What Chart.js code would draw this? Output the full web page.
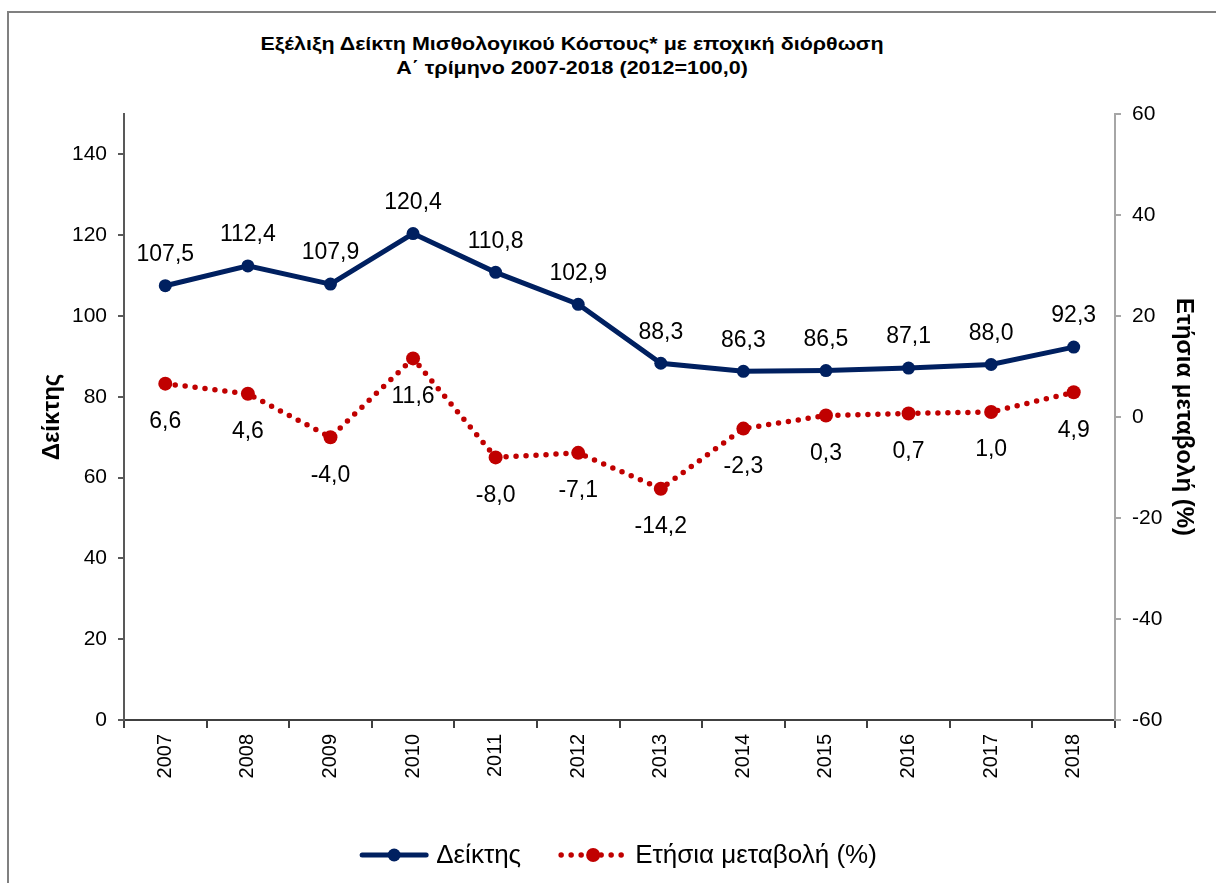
<!DOCTYPE html>
<html>
<head>
<meta charset="utf-8">
<script src="https://cdn.jsdelivr.net/npm/chart.js@4"></script>
<style>
  html, body { margin: 0; padding: 0; background: #fff; overflow: hidden; }
  #wrap { position: relative; width: 1216px; height: 883px; overflow: hidden; }
  #frame { position: absolute; left: 7px; top: 11px; width: 1400px; height: 1000px; border: 2px solid #808080; box-sizing: border-box; }
  #title { position: absolute; left: 0; top: 32px; width: 1144px; text-align: center;
           font: bold 19px "Liberation Sans", Arial, sans-serif; line-height: 24px; color: #000;
           transform: scaleX(1.13); transform-origin: 572px 0; }
  #myChart { position: absolute; left: 0; top: 0; }
</style>
</head>
<body>
<div id="wrap">
  <div id="frame"></div>
  <div id="title">Εξέλιξη Δείκτη Μισθολογικού Κόστους* με εποχική διόρθωση<br>Α΄ τρίμηνο 2007-2018 (2012=100,0)</div>
  <canvas id="myChart" width="1216" height="883"></canvas>
</div>
<script>
const years = ['2007', '2008', '2009', '2010', '2011', '2012', '2013', '2014', '2015', '2016', '2017', '2018']
const indexValues = [107.5, 112.4, 107.9, 120.4, 110.8, 102.9, 88.3, 86.3, 86.5, 87.1, 88.0, 92.3]
const changeValues = [6.6, 4.6, -4.0, 11.6, -8.0, -7.1, -14.2, -2.3, 0.3, 0.7, 1.0, 4.9]
const indexLabel = 'Δείκτης'
const changeLabel = 'Ετήσια μεταβολή (%)'

const NAVY = '#002060'
const RED = '#C00000'
const FONT = '"Liberation Sans", Arial, sans-serif'

// value labels above / below the points
const pointLabels = {
    id: 'pointLabels',
    afterDatasetsDraw(chart) {
        const ctx = chart.ctx
        ctx.save()
        ctx.font = '23px ' + FONT
        ctx.fillStyle = '#000'
        ctx.textAlign = 'center'
        ctx.textBaseline = 'middle'
        chart.data.datasets.forEach((ds, i) => {
            const meta = chart.getDatasetMeta(i)
            meta.data.forEach((pt, j) => {
                const txt = ds.data[j].toFixed(1).replace('.', ',')
                ctx.fillText(txt, pt.x, pt.y + (i === 0 ? -31 : 38))
            })
        })
        ctx.restore()
    }
}

// legend with line + marker samples, like the original
const bottomLegend = {
    id: 'bottomLegend',
    afterDraw(chart) {
        const ctx = chart.ctx
        const y = 855
        const sampleW = 64
        ctx.save()
        ctx.font = '26px ' + FONT
        ctx.textBaseline = 'middle'
        const items = chart.data.datasets.map(ds => ({ ds: ds, w: ctx.measureText(ds.label).width }))
        let total = 0
        items.forEach((it, i) => { total += sampleW + 10 + it.w + (i > 0 ? 40 : 0) })
        let x = (chart.chartArea.left + chart.chartArea.right) / 2 - total / 2
        items.forEach((it, i) => {
            if (i > 0) x += 40
            const ds = it.ds
            ctx.strokeStyle = ds.borderColor
            ctx.lineWidth = ds.borderWidth
            ctx.lineCap = 'round'
            ctx.setLineDash(ds.borderDash || [])
            ctx.beginPath()
            ctx.moveTo(x, y)
            ctx.lineTo(x + sampleW, y)
            ctx.stroke()
            ctx.setLineDash([])
            ctx.fillStyle = ds.pointBackgroundColor
            ctx.beginPath()
            ctx.arc(x + sampleW / 2, y, ds.pointRadius, 0, Math.PI * 2)
            ctx.fill()
            x += sampleW + 10
            ctx.fillStyle = '#000'
            ctx.fillText(ds.label, x, y + 1)
            x += it.w
        })
        ctx.restore()
    }
}

const data = {
    labels: years,
    datasets: [{
        label: indexLabel,
        data: indexValues,
        yAxisID: 'y',
        borderColor: NAVY,
        backgroundColor: NAVY,
        borderWidth: 5,
        pointRadius: 6.5,
        pointBackgroundColor: NAVY,
        pointBorderWidth: 0,
        tension: 0
    }, {
        label: changeLabel,
        data: changeValues,
        yAxisID: 'y1',
        borderColor: RED,
        backgroundColor: RED,
        borderWidth: 5.5,
        borderDash: [0, 10],
        borderCapStyle: 'round',
        pointRadius: 7,
        pointBackgroundColor: RED,
        pointBorderWidth: 0,
        tension: 0
    }]
}

const config = {
    type: 'line',
    data: data,
    plugins: [pointLabels, bottomLegend],
    options: {
        responsive: false,
        animation: false,
        layout: { padding: { top: 114, left: 0, right: 0, bottom: 0 } },
        plugins: {
            legend: { display: false },
            tooltip: { enabled: false }
        },
        scales: {
            x: {
                offset: true,
                grid: { offset: true, drawOnChartArea: false, tickLength: 8, color: '#404040', lineWidth: 2 },
                border: { color: '#404040', width: 2 },
                ticks: { color: '#000', font: { family: FONT, size: 20 }, minRotation: 90, maxRotation: 90, padding: 6 },
                afterFit: s => { s.height = 163 }
            },
            y: {
                position: 'left',
                min: 0,
                max: 150,
                grid: { drawOnChartArea: false, tickLength: 6, color: '#595959', lineWidth: 2 },
                border: { color: '#595959', width: 2 },
                ticks: { stepSize: 20, color: '#000', font: { family: FONT, size: 21 }, padding: 11 },
                afterBuildTicks: s => { s.ticks = s.ticks.filter(t => t.value % 20 === 0) },
                title: { display: true, text: indexLabel, color: '#000', font: { family: FONT, size: 24, weight: 'bold' }, padding: { top: 38 } },
                afterFit: s => { s.width = 124 }
            },
            y1: {
                position: 'right',
                min: -60,
                max: 60,
                grid: { drawOnChartArea: false, tickLength: 6, color: '#a6a6a6', lineWidth: 2 },
                border: { color: '#a6a6a6', width: 2 },
                ticks: { stepSize: 20, color: '#000', font: { family: FONT, size: 21 }, padding: 11 },
                title: { display: true, text: changeLabel, color: '#000', font: { family: FONT, size: 24, weight: 'bold' }, padding: { top: 18 } },
                afterFit: s => { s.width = 101 }
            }
        }
    }
}

var chart = new Chart(document.getElementById('myChart'), config)
</script>
</body>
</html>
